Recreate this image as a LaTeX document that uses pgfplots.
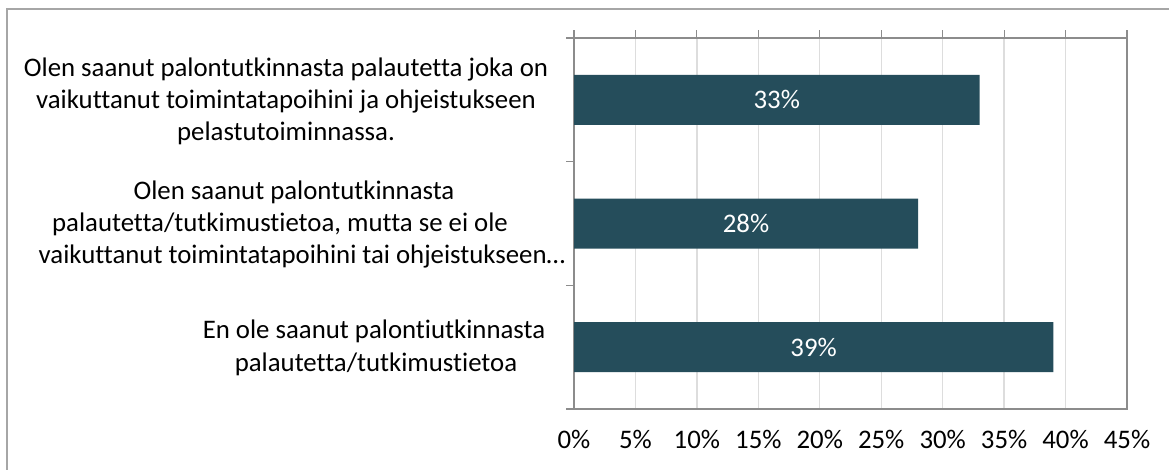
\documentclass[border=0pt]{standalone}
\usepackage{fontspec}
\setmainfont{Carlito}[Ligatures=NoCommon]
\usepackage{pgfplots}
\pgfplotsset{compat=1.18}
\definecolor{barc}{HTML}{254D5B}
\definecolor{axc}{HTML}{8C8C8C}
\definecolor{gridc}{HTML}{DDDDDD}
\definecolor{framec}{HTML}{A6A6A6}
\newcommand\lf{\fontsize{26.8}{32}\selectfont}
\begin{document}
\begin{tikzpicture}[x=1pt,y=1pt]
\clip (0,0) rectangle (1169,-470);
\fill[white] (0,0) rectangle (1169,-470);
\draw[framec, line width=1.2pt] (7,-9) rectangle (1200,-500);
\begin{axis}[
  at={(574pt,-409pt)}, anchor=south west,
  width=553pt, height=371pt, scale only axis,
  xmin=0, xmax=45, ymin=0.5, ymax=3.5, y dir=reverse,
  xtick={0,5,...,45},
  xticklabels={0\%,5\%,10\%,15\%,20\%,25\%,30\%,35\%,40\%,45\%},
  xtick pos=upper, xticklabel pos=lower,
  ytick={0.5,1.5,2.5,3.5}, yticklabels={}, ytick pos=left,
  tick align=outside, major tick length=8pt,
  tick style={axc, line width=1.2pt},
  axis line style={axc, line width=1.8pt},
  xmajorgrids, grid style={gridc, line width=1.4pt},
  xticklabel style={font=\lf, yshift=-10pt},
  clip=false,
]
\addplot[xbar, bar width=50pt, fill=barc, draw=none] coordinates {
  (33,1) (28,2) (39,3)};
\addplot[draw=none, mark=none, point meta=explicit symbolic,
  nodes near coords, nodes near coords align=center,
  every node near coord/.append style={white, anchor=center, font=\lf}]
  coordinates {(16.5,1) [33\%] (14,2) [28\%] (19.5,3) [39\%]};
\end{axis}
\begin{scope}[every node/.style={anchor=base, font=\lf, inner sep=0pt}]
\node at (286,-77) {Olen saanut palontutkinnasta palautetta joka on};
\node at (286,-109) {vaikuttanut toimintatapoihini ja ohjeistukseen};
\node at (286,-141) {pelastutoiminnassa.};
\node at (294,-200) {Olen saanut palontutkinnasta};
\node at (280,-232) {palautetta/tutkimustietoa, mutta se ei ole};
\node at (302,-264) {vaikuttanut toimintatapoihini tai ohjeistukseen\dots};
\node at (374,-338) {En ole saanut palontiutkinnasta};
\node at (376,-371) {palautetta/tutkimustietoa};
\end{scope}
\end{tikzpicture}
\end{document}
